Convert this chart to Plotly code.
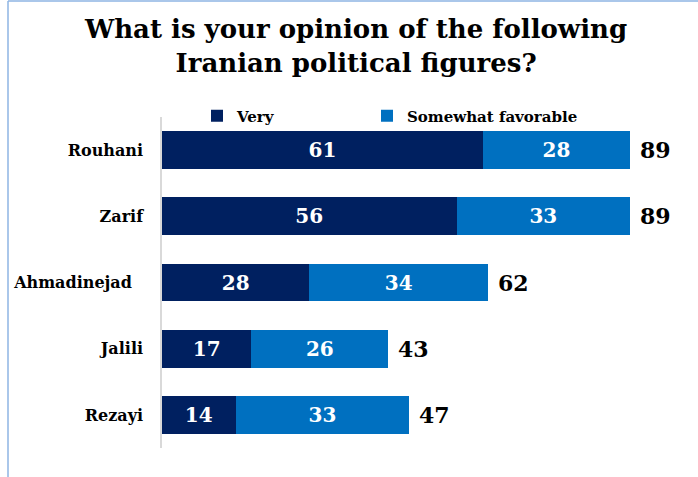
import plotly.graph_objects as go

categories = ["Rouhani", "Zarif", "Ahmadinejad", "Jalili", "Rezayi"]
tick_labels = ["Rouhani", "Zarif", "Ahmadinejad\u00a0\u00a0", "Jalili", "Rezayi"]
very = [61, 56, 28, 17, 14]
somewhat = [28, 33, 34, 26, 33]
totals = [89, 89, 62, 43, 47]

FONT = "DejaVu Serif, Liberation Serif, serif"
W, H = 698, 477
ML, MR, MT, MB = 162, 10, 117, 29
pw = W - ML - MR
ph = H - MT - MB


def py(pix):
    """pixel y from top -> paper y"""
    return (H - MB - pix) / ph


def px(pix):
    return (pix - ML) / pw


fig = go.Figure()
fig.add_trace(go.Bar(
    y=categories, x=very, name="Very", orientation="h",
    marker=dict(color="#002060", line=dict(width=0)),
    text=very, textposition="inside", insidetextanchor="middle",
    textfont=dict(color="white", size=20, family=FONT, weight="bold"),
    hoverinfo="skip", legend="legend",
))
fig.add_trace(go.Bar(
    y=categories, x=somewhat, name="Somewhat favorable", orientation="h",
    marker=dict(color="#0070C0", line=dict(width=0)),
    text=somewhat, textposition="inside", insidetextanchor="middle",
    textfont=dict(color="white", size=20, family=FONT, weight="bold"),
    hoverinfo="skip", legend="legend2",
))

annotations = []
for c, t in zip(categories, totals):
    annotations.append(dict(
        x=t, y=c, xref="x", yref="y", text=str(t), showarrow=False,
        xanchor="left", xshift=8,
        font=dict(size=22, color="black", family=FONT, weight="bold"),
    ))
annotations.append(dict(
    text="What is your opinion of the following<br>Iranian political figures?",
    xref="paper", yref="paper", x=px(355), y=py(46),
    xanchor="center", yanchor="middle", showarrow=False, align="center",
    font=dict(size=26, color="black", family=FONT, weight="bold"),
))

shapes = [
    dict(type="line", xref="paper", yref="paper",
         x0=px(8), x1=px(8), y0=py(H), y1=py(1),
         line=dict(color="#8EB4E3", width=1.5)),
    dict(type="line", xref="paper", yref="paper",
         x0=px(8), x1=px(W), y0=py(1), y1=py(1),
         line=dict(color="#8EB4E3", width=1.5)),
]

legend_style = dict(orientation="h", yanchor="middle", itemwidth=30,
                    font=dict(size=15, color="black", family=FONT, weight="bold"),
                    bgcolor="rgba(0,0,0,0)")

fig.update_layout(
    width=W, height=H,
    margin=dict(l=ML, r=MR, t=MT, b=MB),
    barmode="stack", bargap=0.43,
    plot_bgcolor="white", paper_bgcolor="white",
    xaxis=dict(range=[0, 100], visible=False, fixedrange=True),
    yaxis=dict(autorange="reversed", showgrid=False, zeroline=False,
               showline=True, linecolor="#D9D9D9", linewidth=1.5,
               ticks="", ticklabelstandoff=14,
               tickmode="array", tickvals=categories, ticktext=tick_labels,
               tickfont=dict(size=16, color="black", family=FONT, weight="bold")),
    legend=dict(x=px(197), xanchor="left", y=py(116), **legend_style),
    legend2=dict(x=px(367), xanchor="left", y=py(116), **legend_style),
    annotations=annotations,
    shapes=shapes,
    showlegend=True,
)

fig.write_html("out.html")
